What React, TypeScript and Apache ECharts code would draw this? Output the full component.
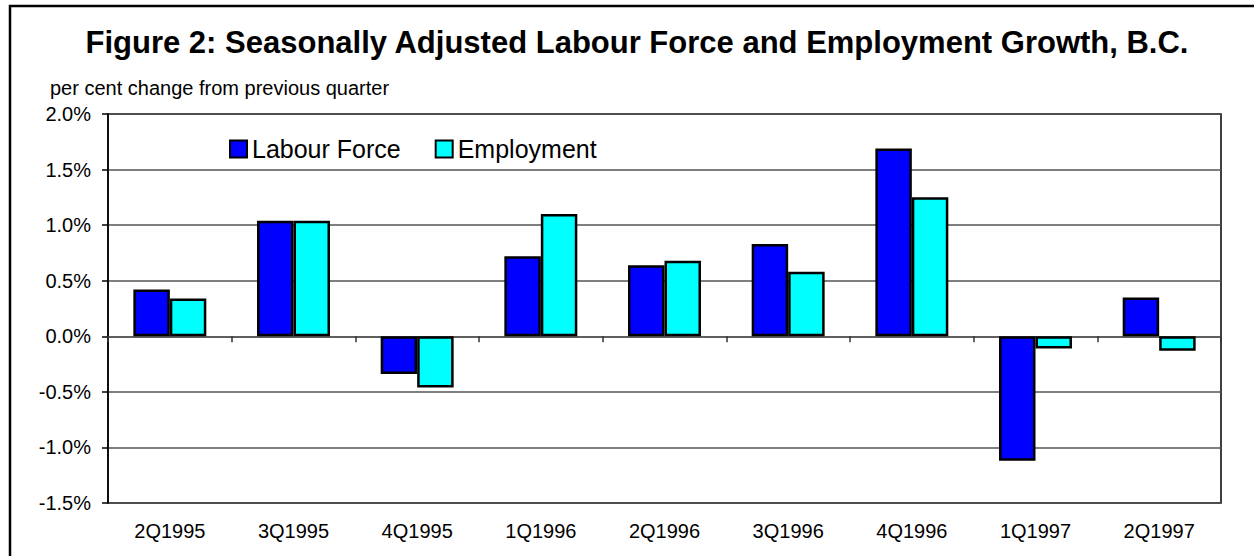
import React, { useEffect, useRef } from "react";
import * as echarts from "echarts";

const quarters = ["2Q1995", "3Q1995", "4Q1995", "1Q1996", "2Q1996", "3Q1996", "4Q1996", "1Q1997", "2Q1997"];
const labourForce = [0.42, 1.04, -0.34, 0.72, 0.64, 0.83, 1.69, -1.12, 0.35];
const employment = [0.34, 1.04, -0.46, 1.1, 0.68, 0.58, 1.25, -0.11, -0.13];
const titleText = "Figure 2: Seasonally Adjusted Labour Force and Employment Growth, B.C.";
const subtitleText = "per cent change from previous quarter";

const FONT = "'Liberation Sans', Arial, sans-serif";

export default function App() {
  const ref = useRef<HTMLDivElement>(null);
  useEffect(() => {
    if (!ref.current) return;
    const chart = echarts.init(ref.current, undefined, { renderer: "svg" });
    chart.setOption({
      animation: false,
      backgroundColor: "#ffffff",
      textStyle: { fontFamily: FONT },
      graphic: [
        {
          type: "rect",
          shape: { x: 10, y: 6, width: 1400, height: 700 },
          style: { fill: "none", stroke: "#000", lineWidth: 2.5 },
          silent: true,
        },
        {
          type: "text",
          x: 637,
          y: 42,
          style: {
            text: titleText,
            textAlign: "center",
            textVerticalAlign: "middle",
            fontFamily: FONT,
            fontWeight: "bold",
            fontSize: 31,
            fill: "#000",
          },
        },
        {
          type: "text",
          x: 50,
          y: 88,
          style: {
            text: subtitleText,
            textAlign: "left",
            textVerticalAlign: "middle",
            fontFamily: FONT,
            fontSize: 20,
            fill: "#000",
          },
        },
      ],
      legend: {
        left: 224,
        top: 131,
        itemWidth: 17,
        itemHeight: 17,
        itemGap: 34,
        icon: "rect",
        textStyle: { fontFamily: FONT, fontSize: 25, color: "#000", lineHeight: 26 },
        data: ["Labour Force", "Employment"],
      },
      grid: {
        left: 108,
        right: 33,
        top: 114,
        bottom: 53,
        show: true,
        borderColor: "#000",
        borderWidth: 1.5,
        backgroundColor: "#fff",
      },
      xAxis: [
        {
          type: "category",
          data: quarters,
          position: "bottom",
          axisLine: { show: false, onZero: false },
          axisTick: { show: false },
          axisLabel: { fontFamily: FONT, fontSize: 20, color: "#000", margin: 18 },
        },
        {
          type: "category",
          data: quarters,
          position: "bottom",
          axisLine: { show: true, onZero: true, lineStyle: { color: "#555", width: 1.5 } },
          axisTick: { show: true, length: 6, lineStyle: { color: "#333", width: 1.5 } },
          axisLabel: { show: false },
          splitLine: { show: false },
        },
      ],
      yAxis: {
        type: "value",
        min: -1.5,
        max: 2.0,
        interval: 0.5,
        axisLine: { show: true, lineStyle: { color: "#000", width: 1.5 } },
        axisTick: { show: true, length: 6, lineStyle: { color: "#000", width: 1.5 } },
        axisLabel: {
          fontFamily: FONT,
          fontSize: 20,
          color: "#000",
          margin: 17,
          formatter: (v: number) => v.toFixed(1) + "%",
        },
        splitLine: { show: true, lineStyle: { color: "#555", width: 1.5 } },
      },
      series: [
        {
          name: "Labour Force",
          type: "bar",
          xAxisIndex: 0,
          data: labourForce,
          barWidth: "29.5%",
          barGap: "0%",
          itemStyle: { color: "#0000ff", borderColor: "#000", borderWidth: 2.5 },
        },
        {
          name: "Employment",
          type: "bar",
          xAxisIndex: 0,
          data: employment,
          barWidth: "29.5%",
          barGap: "0%",
          itemStyle: { color: "#00ffff", borderColor: "#000", borderWidth: 2.5 },
        },
      ],
    });
    return () => chart.dispose();
  }, []);
  return (
    <div
      ref={ref}
      style={{ position: "absolute", left: 0, top: 0, width: 1254, height: 556 }}
    />
  );
}
